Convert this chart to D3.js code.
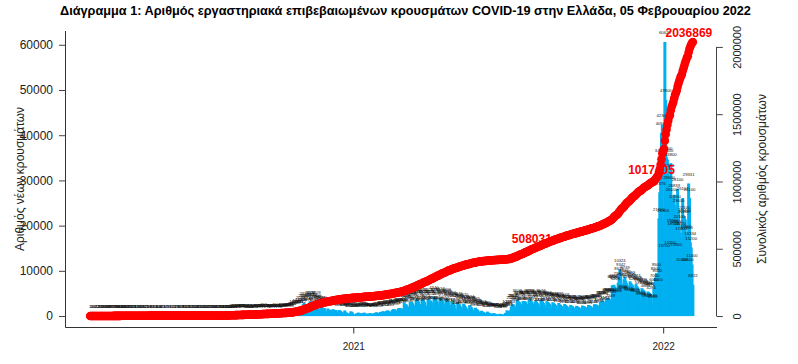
<!DOCTYPE html>
<html>
<head>
<meta charset="utf-8">
<script src="https://cdn.jsdelivr.net/npm/d3@7"></script>
<style>
body { margin: 0; background: #fff; }
svg { display: block; font-family: "Liberation Sans", Arial, sans-serif; }
</style>
</head>
<body>
<script>
var startDate = new Date(2020, 1, 26);

// daily new cases, one array per month
var cases2020_02 = [1, 2, 0, 4];
var cases2020_03 = [0, 0, 0, 2, 22, 14, 2, 28, 11, 11, 0, 9, 91, 38, 38, 103, 13, 31, 46, 69, 35, 94, 71, 73, 78, 71, 74, 74, 95, 56, 102];
var cases2020_04 = [108, 99, 102, 129, 62, 60, 20, 62, 40, 58, 29, 37, 25, 12, 20, 25, 15, 21, 4, 10, 11, 156, 77, 10, 15, 13, 19, 16, 5, 22];
var cases2020_05 = [2, 11, 29, 2, 14, 18, 9, 4, 13, 6, 0, 13, 16, 3, 10, 10, 13, 6, 4, 8, 10, 21, 3, 5, 4, 7, 9, 3, 13, 8, 1];
var cases2020_06 = [1, 1, 7, 44, 8, 2, 26, 9, 5, 9, 12, 33, 97, 3, 8, 16, 18, 12, 14, 19, 7, 9, 16, 13, 17, 21, 14, 13, 14, 16];
var cases2020_07 = [18, 9, 22, 25, 24, 13, 17, 21, 20, 44, 45, 14, 27, 31, 21, 24, 33, 27, 38, 19, 19, 34, 40, 37, 45, 57, 28, 23, 75, 48, 58];
var cases2020_08 = [110, 41, 32, 121, 98, 153, 124, 151, 203, 126, 150, 262, 204, 254, 230, 217, 181, 269, 235, 217, 284, 228, 226, 171, 293, 250, 248, 170, 162, 222, 154];
var cases2020_09 = [169, 240, 244, 253, 149, 123, 171, 243, 293, 370, 372, 339, 186, 272, 241, 331, 453, 342, 318, 227, 223, 216, 338, 396, 346, 312, 199, 314, 412, 361];
var cases2020_10 = [460, 354, 355, 225, 190, 330, 352, 460, 456, 346, 286, 289, 508, 491, 465, 459, 475, 463, 348, 667, 865, 882, 1211, 935, 1026, 1259, 1547, 1259, 1211, 1690, 2056];
var cases2020_11 = [1152, 1593, 2646, 2917, 2646, 1914, 2448, 1678, 1773, 2752, 3209, 3316, 2835, 2702, 2198, 1695, 2386, 3209, 2456, 2311, 1498, 1498, 1044, 2131, 2150, 1825, 1747, 1747, 1193, 1044];
var cases2020_12 = [1044, 1676, 1382, 1395, 1204, 1208, 802, 1531, 1400, 1265, 1329, 1041, 848, 643, 1342, 1276, 1128, 948, 821, 649, 469, 1246, 808, 766, 651, 328, 263, 476, 1020, 959, 742];
var cases2021_01 = [262, 236, 401, 262, 600, 625, 770, 657, 564, 356, 312, 678, 685, 749, 551, 536, 396, 376, 557, 534, 629, 546, 540, 350, 291, 646, 650, 839, 772, 668, 535];
var cases2021_02 = [408, 921, 904, 870, 1072, 956, 645, 614, 1105, 1255, 1137, 1163, 924, 661, 807, 1311, 1520, 1434, 1493, 1197, 857, 910, 1695, 1745, 1690, 1734, 1413, 1137];
var cases2021_03 = [1593, 3002, 2558, 2653, 2372, 2059, 1540, 1778, 3102, 2904, 3123, 2795, 2401, 1723, 1894, 3515, 3765, 3393, 3201, 2618, 1759, 2047, 3886, 3523, 3367, 3068, 2354, 1804, 2009, 3801, 3455];
var cases2021_04 = [3419, 3439, 3046, 2056, 2144, 4340, 3974, 3763, 3439, 2987, 1892, 2059, 4017, 3705, 3460, 3306, 2744, 1695, 1933, 3869, 3644, 3322, 3087, 2456, 1510, 1760, 3251, 2978, 2699, 2525];
var cases2021_05 = [1744, 934, 1083, 3043, 2649, 2586, 2259, 1931, 1172, 1244, 2770, 2415, 2112, 1819, 1531, 900, 1135, 2424, 2138, 1996, 1668, 1287, 637, 805, 1845, 1524, 1479, 1241, 931, 469, 616];
var cases2021_06 = [1167, 1014, 904, 798, 664, 402, 335, 981, 743, 700, 599, 498, 301, 239, 638, 586, 501, 442, 347, 216, 184, 502, 448, 421, 405, 303, 188, 235, 654, 696];
var cases2021_07 = [1274, 1090, 811, 615, 1253, 2023, 2467, 2604, 2540, 2141, 1742, 1878, 3609, 3276, 3190, 3076, 2653, 1901, 1986, 3330, 3173, 3289, 3143, 2695, 2020, 1981, 3693, 3757, 3505, 3248, 2762];
var cases2021_08 = [2389, 1720, 3147, 3428, 3125, 2847, 2538, 1720, 1681, 3574, 3440, 3206, 2893, 2446, 1812, 1650, 3297, 3086, 2973, 2728, 2336, 1721, 1636, 3050, 2873, 2668, 2455, 2243, 1591, 1525, 2882];
var cases2021_09 = [2563, 2505, 2237, 2111, 1489, 1297, 2668, 2412, 2306, 2140, 1872, 1263, 1150, 2432, 2308, 2200, 1968, 1792, 1192, 1106, 2241, 2134, 1984, 1876, 1705, 1090, 1020, 2318, 2209, 2150];
var cases2021_10 = [2010, 1877, 1144, 1051, 2424, 2365, 2233, 2110, 1877, 1241, 1134, 2597, 2569, 2546, 2447, 2261, 1591, 1435, 3134, 3209, 3295, 3263, 3071, 2167, 1855, 3739, 3845, 3980, 3880, 3595, 2549];
var cases2021_11 = [3520, 6808, 6720, 6909, 6521, 6226, 3833, 3600, 7335, 8613, 10324, 9342, 7166, 4506, 4288, 8136, 8749, 7812, 7252, 6758, 4171, 3964, 7692, 7316, 7052, 6773, 6296, 3807, 3624, 7074];
var cases2021_12 = [6618, 6352, 5997, 5373, 3120, 2965, 6169, 5873, 5688, 5456, 4803, 2693, 2603, 5441, 5236, 5092, 4871, 4284, 2470, 2389, 6000, 7000, 8500, 9500, 8000, 6000, 21600, 27376, 34600, 40500, 42300];
var cases2022_01 = [21300, 13700, 60626, 47800, 35100, 34600, 31200, 28600, 14200, 33800, 26100, 19200, 18500, 26839, 24500, 13900, 18900, 28100, 23600, 20100, 18400, 17400, 10400, 26107, 21200, 22100, 21400, 17900, 17600, 10600, 29331];
var cases2022_02 = [26100, 16334, 15200, 11400, 6922];

var leftTicks = [0, 10000, 20000, 30000, 40000, 50000, 60000];
var rightTicks = [0, 500000, 1000000, 1500000, 2000000];
var yearTicks = [new Date(2021, 0, 1), new Date(2022, 0, 1)];
var milestones = [508031, 1017405, 2036869];

var titleText = "Διάγραμμα 1: Αριθμός εργαστηριακά επιβεβαιωμένων κρουσμάτων COVID-19 στην Ελλάδα, 05 Φεβρουαρίου 2022";
var leftTitle = "Αριθμός νέων κρουσμάτων";
var rightTitle = "Συνολικός αριθμός κρουσμάτων";

var cases = [].concat(cases2020_02, cases2020_03, cases2020_04, cases2020_05, cases2020_06,
	cases2020_07, cases2020_08, cases2020_09, cases2020_10, cases2020_11, cases2020_12,
	cases2021_01, cases2021_02, cases2021_03, cases2021_04, cases2021_05, cases2021_06,
	cases2021_07, cases2021_08, cases2021_09, cases2021_10, cases2021_11, cases2021_12,
	cases2022_01, cases2022_02);

var days = cases.map(function(d, i) { return d3.timeDay.offset(startDate, i); });
var cum = Array.from(d3.cumsum(cases));

var width = 798, height = 364,
	plot = {left: 66, right: 717, top: 31, bottom: 327};

// R style 4% padding on every axis
function padded(lo, hi) {
	var r = hi - lo;
	return [lo - 0.04 * r, hi + 0.04 * r];
}

var xd = padded(+days[0], +days[days.length - 1]);
var x = d3.scaleTime()
	.domain([new Date(xd[0]), new Date(xd[1])])
	.range([plot.left, plot.right]);
var yL = d3.scaleLinear()
	.domain(padded(0, d3.max(cases)))
	.range([plot.bottom, plot.top]);
var yR = d3.scaleLinear()
	.domain(padded(0, cum[cum.length - 1]))
	.range([plot.bottom, plot.top]);

var svg = d3.select("body").append("svg")
	.attr("width", width)
	.attr("height", height);

var barW = 3;
svg.append("g")
	.attr("class", "bars")
	.selectAll("rect")
	.data(cases)
	.join("rect")
		.attr("x", function(d, i) { return x(days[i]) - barW / 2; })
		.attr("y", function(d) { return yL(d); })
		.attr("width", barW)
		.attr("height", function(d) { return yL(0) - yL(d); })
		.attr("fill", "#00b0f0");

svg.append("g")
	.attr("class", "barLabels")
	.selectAll("text")
	.data(cases)
	.join("text")
		.attr("x", function(d, i) { return x(days[i]); })
		.attr("y", function(d) { return yL(d + 2000); })
		.attr("text-anchor", "middle")
		.attr("dominant-baseline", "central")
		.attr("font-size", 4.2)
		.attr("fill", "#111")
		.text(function(d) { return d; });

svg.append("g")
	.attr("class", "milestones")
	.selectAll("text")
	.data(milestones)
	.join("text")
		.attr("x", function(d) {
			var i = Math.min(d3.bisectLeft(cum, d), cum.length - 1);
			return x(days[i]) - 4;
		})
		.attr("y", function(d) { return yR(d) - 9; })
		.attr("text-anchor", "middle")
		.attr("dominant-baseline", "central")
		.attr("font-size", 12)
		.attr("font-weight", "bold")
		.attr("fill", "#ff0000")
		.text(function(d) { return d; });

svg.append("g")
	.attr("class", "cumulative")
	.selectAll("circle")
	.data(cum)
	.join("circle")
		.attr("cx", function(d, i) { return x(days[i]); })
		.attr("cy", function(d) { return yR(d); })
		.attr("r", 4.3)
		.attr("fill", "#ff0000");

// L shaped box
svg.append("path")
	.attr("d", "M" + (plot.left - 0.5) + "," + plot.top +
		" V" + (plot.bottom + 0.5) + " H" + plot.right)
	.attr("fill", "none")
	.attr("stroke", "#333");

var axL = svg.append("g")
	.attr("transform", "translate(" + (plot.left - 0.5) + ",0)")
	.call(d3.axisLeft(yL).tickValues(leftTicks).tickSize(6.5).tickPadding(6).tickFormat(d3.format("d")));
axL.select(".domain").remove();
axL.selectAll("line").attr("stroke", "#444");
axL.selectAll("text").attr("font-size", 12).attr("fill", "#222");

var axR = svg.append("g")
	.attr("transform", "translate(" + (plot.right - 0.5) + ",0)")
	.call(d3.axisRight(yR).tickValues(rightTicks).tickSize(6.3).tickFormat(d3.format("d")));
axR.select(".domain")
	.attr("d", "M0," + yR(rightTicks[0]) + " V" + yR(rightTicks[rightTicks.length - 1]))
	.attr("stroke", "#444");
axR.selectAll("line").attr("stroke", "#444");
axR.selectAll("text")
	.attr("x", null)
	.attr("dy", null)
	.attr("transform", "translate(20.5,0) rotate(-90)")
	.attr("text-anchor", "middle")
	.attr("dominant-baseline", "central")
	.attr("font-size", 11)
	.attr("fill", "#222");

var axB = svg.append("g")
	.attr("transform", "translate(0," + (plot.bottom + 0.5) + ")")
	.call(d3.axisBottom(x).tickValues(yearTicks).tickSize(6).tickPadding(9.5).tickFormat(d3.timeFormat("%Y")));
axB.select(".domain").remove();
axB.selectAll("line").attr("stroke", "#333");
axB.selectAll("text").attr("font-size", 10).attr("fill", "#222");

svg.append("text")
	.attr("transform", "translate(20," + ((plot.top + plot.bottom) / 2) + ") rotate(-90)")
	.attr("text-anchor", "middle")
	.attr("dominant-baseline", "central")
	.attr("font-size", 12)
	.attr("fill", "#222")
	.text(leftTitle);

svg.append("text")
	.attr("transform", "translate(762," + ((plot.top + plot.bottom) / 2) + ") rotate(-90)")
	.attr("text-anchor", "middle")
	.attr("dominant-baseline", "central")
	.attr("font-size", 12)
	.attr("fill", "#222")
	.text(rightTitle);

var title = svg.append("text")
	.attr("x", 60)
	.attr("y", 15)
	.attr("font-size", 12.5)
	.attr("font-weight", "bold")
	.attr("fill", "#000")
	.text(titleText);
var tw = title.node().getComputedTextLength();
title.attr("font-size", 12.5 * 692 / tw);
</script>
</body>
</html>
